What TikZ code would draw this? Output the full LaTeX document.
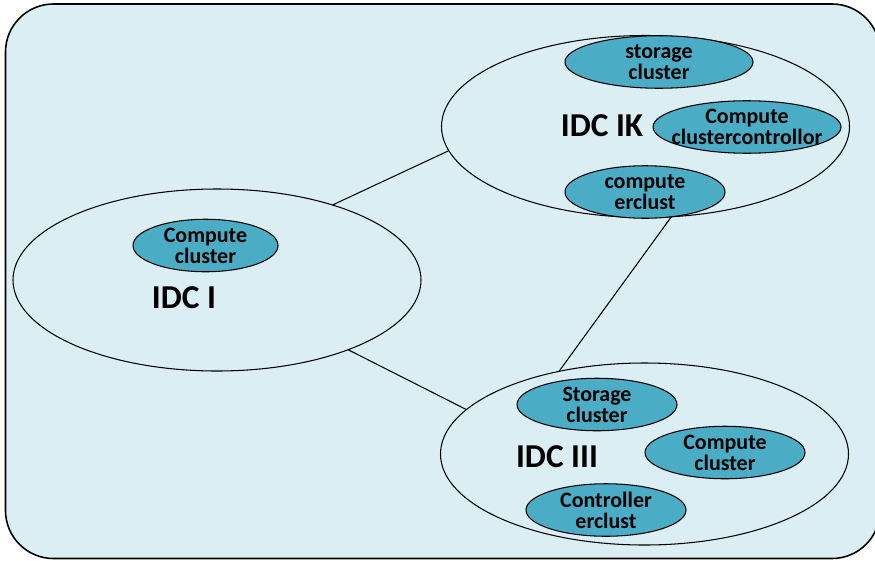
\documentclass[tikz,border=0pt]{standalone}
\usepackage{fontspec}
\setmainfont{Carlito}
\usetikzlibrary{shapes.geometric}

\definecolor{panelblue}{HTML}{DBEEF4}
\definecolor{clusterteal}{HTML}{4BACC6}

\begin{document}
\begin{tikzpicture}[
    idc/.style={ellipse, draw=black, line width=0.6pt, inner sep=0pt, outer sep=0pt,
        minimum width=8.16cm, minimum height=3.64cm},
    idclabel/.style={font=\fontsize{19}{22}\selectfont\bfseries},
    cluster/.style={ellipse, draw=black, line width=0.6pt, fill=clusterteal, inner sep=0pt,
        minimum height=1.05cm, align=center, font=\fontsize{12.5}{12}\selectfont\bfseries},
    link/.style={line width=0.6pt}
]
    \useasboundingbox (0,0) rectangle (17.5,-11.2);
    % Panel
    \draw[line width=0.9pt, fill=panelblue, rounded corners=0.96cm] (0.11,-0.08) rectangle (17.6,-11.17);

    % Data centres
    \node[idc] (idcI) at (4.34,-5.60) {};
    \node[idc] (idcIK) at (12.91,-2.53) {};
    \node[idc] (idcIII) at (12.89,-9.08) {};

    \node[idclabel] (lblI) at (3.68,-5.95) {IDC I};
    \node[idclabel] (lblIK) at (12.04,-2.52) {IDC IK};
    \node[idclabel] (lblIII) at (11.14,-9.14) {IDC III};

    % Clusters in IDC I
    \node[cluster, minimum width=2.90cm] (iComp) at (4.11,-4.91) {Compute\\cluster};

    % Clusters in IDC IK
    \node[cluster, minimum width=3.76cm] (ikStore) at (13.18,-1.24) {storage\\cluster};
    \node[cluster, minimum width=3.76cm, inner xsep=-0.32cm, inner ysep=-0.1cm] (ikCtrl) at (14.94,-2.54) {Compute\\clustercontrollor};
    \node[cluster, minimum width=3.20cm] (ikComp) at (12.90,-3.84) {compute\\erclust};

    % Clusters in IDC III
    \node[cluster, minimum width=3.20cm] (iiiStore) at (11.94,-8.09) {Storage\\cluster};
    \node[cluster, minimum width=3.20cm] (iiiComp) at (14.50,-9.05) {Compute\\cluster};
    \node[cluster, minimum width=3.20cm] (iiiCtrl) at (12.12,-10.20) {Controller\\erclust};

    % Links
    \draw[link] (idcI.33.6) -- (idcIK.187.3);
    \draw[link] (idcI.332) -- (idcIII.166.5);
    \draw[link] (idcIK.286.7) -- (idcIII.136.9);
\end{tikzpicture}
\end{document}
